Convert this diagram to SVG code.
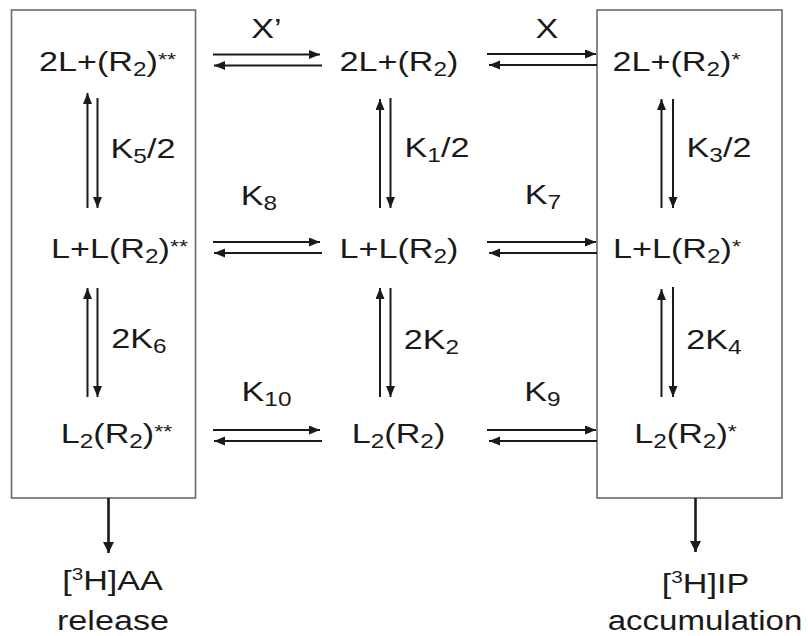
<svg xmlns="http://www.w3.org/2000/svg" width="808" height="636" viewBox="0 0 808 636">
<defs>
<style>
.t{font-family:"Liberation Sans",Arial,sans-serif;font-size:28px;fill:#1a1a1a;text-anchor:middle}
.sub{font-size:20px}
.sup{font-size:19px}
.box{fill:none;stroke:#6a6a6a;stroke-width:1.6}
.ln{stroke:#1a1a1a;stroke-width:2;fill:none}
.out{stroke:#1a1a1a;stroke-width:2.6;fill:none}
</style>
<marker id="ah" markerUnits="userSpaceOnUse" markerWidth="13" markerHeight="10" refX="11" refY="4.5" orient="auto">
<path d="M0,0 L11,4.5 L0,9 z" fill="#1a1a1a"/>
</marker>
<marker id="ah2" markerUnits="userSpaceOnUse" markerWidth="14" markerHeight="12" refX="11" refY="5.5" orient="auto">
<path d="M0,0 L11,5.5 L0,11 z" fill="#1a1a1a"/>
</marker>
</defs>
<rect width="808" height="636" fill="#fff"/>
<g id="boxes">
<rect class="box" x="11.5" y="10" width="184" height="488"/>
<rect class="box" x="597" y="10" width="185" height="488"/>
</g>
<g id="connectors">
<line class="ln" x1="213" y1="54.5" x2="320" y2="54.5" marker-end="url(#ah)"/>
<line class="ln" x1="322" y1="65.5" x2="214" y2="65.5" marker-end="url(#ah)"/>
<line class="ln" x1="487" y1="54" x2="596" y2="54" marker-end="url(#ah)"/>
<line class="ln" x1="597" y1="65" x2="489" y2="65" marker-end="url(#ah)"/>
<line class="ln" x1="213" y1="242" x2="320" y2="242" marker-end="url(#ah)"/>
<line class="ln" x1="322" y1="253" x2="214" y2="253" marker-end="url(#ah)"/>
<line class="ln" x1="487" y1="242" x2="596" y2="242" marker-end="url(#ah)"/>
<line class="ln" x1="597" y1="253" x2="489" y2="253" marker-end="url(#ah)"/>
<line class="ln" x1="213" y1="430" x2="320" y2="430" marker-end="url(#ah)"/>
<line class="ln" x1="322" y1="441" x2="214" y2="441" marker-end="url(#ah)"/>
<line class="ln" x1="487" y1="430" x2="596" y2="430" marker-end="url(#ah)"/>
<line class="ln" x1="597" y1="441" x2="489" y2="441" marker-end="url(#ah)"/>
<line class="ln" x1="87.5" y1="208" x2="87.5" y2="93" marker-end="url(#ah)"/>
<line class="ln" x1="97.5" y1="98" x2="97.5" y2="208" marker-end="url(#ah)"/>
<line class="ln" x1="380" y1="208" x2="380" y2="99" marker-end="url(#ah)"/>
<line class="ln" x1="390.5" y1="98" x2="390.5" y2="208" marker-end="url(#ah)"/>
<line class="ln" x1="661.5" y1="208" x2="661.5" y2="99" marker-end="url(#ah)"/>
<line class="ln" x1="673" y1="99" x2="673" y2="208" marker-end="url(#ah)"/>
<line class="ln" x1="87.5" y1="397" x2="87.5" y2="288" marker-end="url(#ah)"/>
<line class="ln" x1="97.5" y1="288" x2="97.5" y2="397" marker-end="url(#ah)"/>
<line class="ln" x1="380" y1="397" x2="380" y2="288" marker-end="url(#ah)"/>
<line class="ln" x1="390.5" y1="288" x2="390.5" y2="397" marker-end="url(#ah)"/>
<line class="ln" x1="661.5" y1="397" x2="661.5" y2="289" marker-end="url(#ah)"/>
<line class="ln" x1="673" y1="287" x2="673" y2="397" marker-end="url(#ah)"/>
<line class="out" x1="108.5" y1="498" x2="108.5" y2="553" marker-end="url(#ah2)"/>
<line class="out" x1="695.5" y1="498" x2="695.5" y2="552" marker-end="url(#ah2)"/>
</g>
<g id="n-2LR2ss" transform="translate(107.5,71) scale(1.22,1)"><text class="t">2L+(R<tspan class="sub" dy="5">2</tspan><tspan dy="-5">)</tspan><tspan class="sup" dy="-5">**</tspan></text></g>
<g id="n-2LR2" transform="translate(399,71) scale(1.22,1)"><text class="t">2L+(R<tspan class="sub" dy="5">2</tspan><tspan dy="-5">)</tspan></text></g>
<g id="n-2LR2s" transform="translate(676.5,71) scale(1.22,1)"><text class="t">2L+(R<tspan class="sub" dy="5">2</tspan><tspan dy="-5">)</tspan><tspan class="sup" dy="-5">*</tspan></text></g>
<g id="n-LLR2ss" transform="translate(119.5,258) scale(1.22,1)"><text class="t">L+L(R<tspan class="sub" dy="5">2</tspan><tspan dy="-5">)</tspan><tspan class="sup" dy="-5">**</tspan></text></g>
<g id="n-LLR2" transform="translate(399,258) scale(1.22,1)"><text class="t">L+L(R<tspan class="sub" dy="5">2</tspan><tspan dy="-5">)</tspan></text></g>
<g id="n-LLR2s" transform="translate(677,258) scale(1.22,1)"><text class="t">L+L(R<tspan class="sub" dy="5">2</tspan><tspan dy="-5">)</tspan><tspan class="sup" dy="-5">*</tspan></text></g>
<g id="n-L2R2ss" transform="translate(116.5,443) scale(1.22,1)"><text class="t">L<tspan class="sub" dy="5">2</tspan><tspan dy="-5">(R</tspan><tspan class="sub" dy="5">2</tspan><tspan dy="-5">)</tspan><tspan class="sup" dy="-5">**</tspan></text></g>
<g id="n-L2R2" transform="translate(398.5,443) scale(1.22,1)"><text class="t">L<tspan class="sub" dy="5">2</tspan><tspan dy="-5">(R</tspan><tspan class="sub" dy="5">2</tspan><tspan dy="-5">)</tspan></text></g>
<g id="n-L2R2s" transform="translate(685.5,443) scale(1.22,1)"><text class="t">L<tspan class="sub" dy="5">2</tspan><tspan dy="-5">(R</tspan><tspan class="sub" dy="5">2</tspan><tspan dy="-5">)</tspan><tspan class="sup" dy="-5">*</tspan></text></g>
<g id="labels">
<g transform="translate(266.5,38) scale(1.22,1)"><text class="t">X’</text></g>
<g transform="translate(547,38) scale(1.22,1)"><text class="t">X</text></g>
<g transform="translate(143,158) scale(1.22,1)"><text class="t">K<tspan class="sub" dy="5">5</tspan><tspan dy="-5">/2</tspan></text></g>
<g transform="translate(437,157) scale(1.22,1)"><text class="t">K<tspan class="sub" dy="5">1</tspan><tspan dy="-5">/2</tspan></text></g>
<g transform="translate(719,157) scale(1.22,1)"><text class="t">K<tspan class="sub" dy="5">3</tspan><tspan dy="-5">/2</tspan></text></g>
<g transform="translate(259,205) scale(1.22,1)"><text class="t">K<tspan class="sub" dy="5">8</tspan></text></g>
<g transform="translate(543,204) scale(1.22,1)"><text class="t">K<tspan class="sub" dy="5">7</tspan></text></g>
<g transform="translate(139,348) scale(1.22,1)"><text class="t">2K<tspan class="sub" dy="5">6</tspan></text></g>
<g transform="translate(431.5,349) scale(1.22,1)"><text class="t">2K<tspan class="sub" dy="5">2</tspan></text></g>
<g transform="translate(714,349) scale(1.22,1)"><text class="t">2K<tspan class="sub" dy="5">4</tspan></text></g>
<g transform="translate(266.5,401) scale(1.22,1)"><text class="t">K<tspan class="sub" dy="5">10</tspan></text></g>
<g transform="translate(542.5,401) scale(1.22,1)"><text class="t">K<tspan class="sub" dy="5">9</tspan></text></g>
</g>
<g id="out-AA">
<g transform="translate(112.5,590) scale(1.22,1)"><text class="t">[<tspan style="font-size:17px" dy="-10">3</tspan><tspan dy="10">H]AA</tspan></text></g>
<g transform="translate(113,630) scale(1.22,1)"><text class="t">release</text></g>
</g>
<g id="out-IP">
<g transform="translate(705.5,593) scale(1.22,1)"><text class="t">[<tspan style="font-size:17px" dy="-10">3</tspan><tspan dy="10">H]IP</tspan></text></g>
<g transform="translate(705,630) scale(1.18,1)"><text class="t">accumulation</text></g>
</g>
</svg>
